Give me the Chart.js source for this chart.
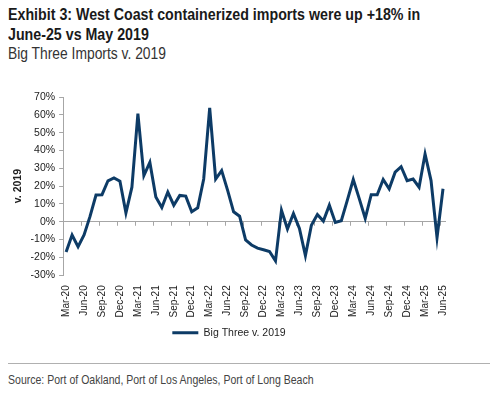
<!DOCTYPE html>
<html lang="en">
  <head>
    <meta charset="UTF-8" />
    <title>Big Three Imports v. 2019</title>
    <script src="https://cdn.jsdelivr.net/npm/chart.js"></script>
    <style>
      body {
        margin: 0;
        width: 496px;
        height: 393px;
        background: #fff;
        position: relative;
        overflow: hidden;
        font-family: 'Liberation Sans', Arial, sans-serif;
      }
      /* narrow look of the original: regular font squeezed sideways */
      .narrow {
        position: absolute;
        left: 8px;
        white-space: nowrap;
        transform: scaleX(0.8);
        transform-origin: left top;
      }
      #title {
        top: 5px;
        font-size: 17px;
        font-weight: bold;
        line-height: 20px;
        color: #1a1a1a;
        transform: scaleX(0.837);
      }
      #subtitle {
        top: 45px;
        font-size: 16px;
        color: #333;
        transform: scaleX(0.865);
      }
      #chart-box {
        position: absolute;
        left: 0;
        top: 84px;
        width: 496px;
        height: 264px;
      }
      #rule {
        position: absolute;
        left: 8px;
        top: 363px;
        width: 482px;
        border-top: 1px solid #b0b0b0;
      }
      #source {
        top: 372px;
        font-size: 13px;
        color: #444;
        transform: scaleX(0.81);
      }
    </style>
  </head>
  <body>
    <div id="title" class="narrow">Exhibit 3: West Coast containerized imports were up +18% in<br />June-25 vs May 2019</div>
    <div id="subtitle" class="narrow">Big Three Imports v. 2019</div>

    <!-- Chart container -->
    <div id="chart-box">
      <canvas id="importsChart"></canvas>
    </div>

    <div id="rule"></div>
    <div id="source" class="narrow">Source: Port of Oakland, Port of Los Angeles, Port of Long Beach</div>

    <script>
      // Months, Mar-20 .. Jun-25
      const months = [
        'Mar-20', 'Apr-20', 'May-20', 'Jun-20', 'Jul-20', 'Aug-20', 'Sep-20', 'Oct-20', 'Nov-20', 'Dec-20',
        'Jan-21', 'Feb-21', 'Mar-21', 'Apr-21', 'May-21', 'Jun-21', 'Jul-21', 'Aug-21', 'Sep-21', 'Oct-21', 'Nov-21', 'Dec-21',
        'Jan-22', 'Feb-22', 'Mar-22', 'Apr-22', 'May-22', 'Jun-22', 'Jul-22', 'Aug-22', 'Sep-22', 'Oct-22', 'Nov-22', 'Dec-22',
        'Jan-23', 'Feb-23', 'Mar-23', 'Apr-23', 'May-23', 'Jun-23', 'Jul-23', 'Aug-23', 'Sep-23', 'Oct-23', 'Nov-23', 'Dec-23',
        'Jan-24', 'Feb-24', 'Mar-24', 'Apr-24', 'May-24', 'Jun-24', 'Jul-24', 'Aug-24', 'Sep-24', 'Oct-24', 'Nov-24', 'Dec-24',
        'Jan-25', 'Feb-25', 'Mar-25', 'Apr-25', 'May-25', 'Jun-25'
      ]

      // Big Three imports vs same month of 2019, in %
      const bigThreeVs2019 = [
        -17, -7.4, -14, -7.4, 3, 15, 15.2, 23, 24.6, 22.8,
        5, 19.4, 60.7, 25.9, 33.3, 13.9, 8, 16.7, 9.3, 14.8, 14.4, 5.6,
        7.8, 24, 63.9, 24, 28.7, 17.6, 5.6, 3.1, -10.2, -13, -14.8, -15.7,
        -16.7, -21.9, 6.5, -4, 4.6, -3.7, -19, -1.9, 4.1, 0.4, 9.3, -0.4,
        0.6, 12, 23.7, 13, 1.9, 15.2, 15.2, 23.7, 18.5, 27.8, 30.9, 23.1,
        24, 19.4, 38, 23.1, -8.9, 18.5
      ]

      // Y axis range / steps
      const yMin = -30
      const yMax = 70
      const yStep = 10
      const labelEvery = 3

      const lineColor = '#0d3b66'
      const axisColor = '#a6a6a6'
      const textColor = '#222'

      // small tick marks along the zero line, every third month
      const zeroTicks = {
        id: 'zeroTicks',
        beforeDatasetsDraw(chart) {
          const x = chart.scales.x
          const y = chart.scales.y
          const ctx = chart.ctx
          const half = (x.getPixelForValue(1) - x.getPixelForValue(0)) / 2
          const y0 = y.getPixelForValue(0)
          ctx.save()
          ctx.strokeStyle = axisColor
          ctx.lineWidth = 1
          ctx.beginPath()
          for (let i = labelEvery; i < months.length; i += labelEvery) {
            const px = Math.round(x.getPixelForValue(i) - half) + 0.5
            ctx.moveTo(px, y0)
            ctx.lineTo(px, y0 + 4)
          }
          ctx.stroke()
          ctx.restore()
        }
      }

      const ctx = document.getElementById('importsChart').getContext('2d')
      new Chart(ctx, {
        type: 'line',
        data: {
          labels: months,
          datasets: [
            {
              label: 'Big Three v. 2019',
              data: bigThreeVs2019,
              borderColor: lineColor,
              backgroundColor: lineColor,
              borderWidth: 3,
              pointRadius: 0,
              pointStyle: 'line',
              tension: 0
            }
          ]
        },
        options: {
          responsive: true,
          maintainAspectRatio: false,
          animation: false,
          layout: {
            padding: { left: 12, right: 50, top: 13, bottom: 0 }
          },
          plugins: {
            tooltip: { enabled: false },
            legend: {
              position: 'bottom',
              labels: {
                usePointStyle: true,
                pointStyleWidth: 26,
                color: textColor,
                font: { family: 'Liberation Sans, Arial, sans-serif', size: 10.5 },
                padding: 8
              }
            }
          },
          scales: {
            x: {
              offset: true,
              border: { display: false },
              grid: { display: false, offset: true },
              ticks: {
                autoSkip: false,
                minRotation: 90,
                maxRotation: 90,
                padding: 2,
                color: textColor,
                font: { family: 'Liberation Sans, Arial, sans-serif', size: 10 },
                callback: function (value, index) {
                  return index % labelEvery === 0 ? months[index] : ''
                }
              }
            },
            y: {
              min: yMin,
              max: yMax,
              border: { display: true, color: axisColor },
              grid: {
                drawOnChartArea: true,
                color: c => (c.tick && c.tick.value === 0 ? axisColor : 'rgba(0,0,0,0)'),
                tickColor: axisColor,
                tickLength: 4
              },
              ticks: {
                stepSize: yStep,
                padding: 4,
                color: textColor,
                font: { family: 'Liberation Sans, Arial, sans-serif', size: 10.5 },
                callback: v => v + '%'
              },
              title: {
                display: true,
                text: 'v. 2019',
                color: textColor,
                font: { family: 'Liberation Sans, Arial, sans-serif', size: 10.5, weight: 'bold' },
                padding: { top: 0, bottom: 2 }
              }
            }
          }
        },
        plugins: [zeroTicks]
      })
    </script>
  </body>
</html>
